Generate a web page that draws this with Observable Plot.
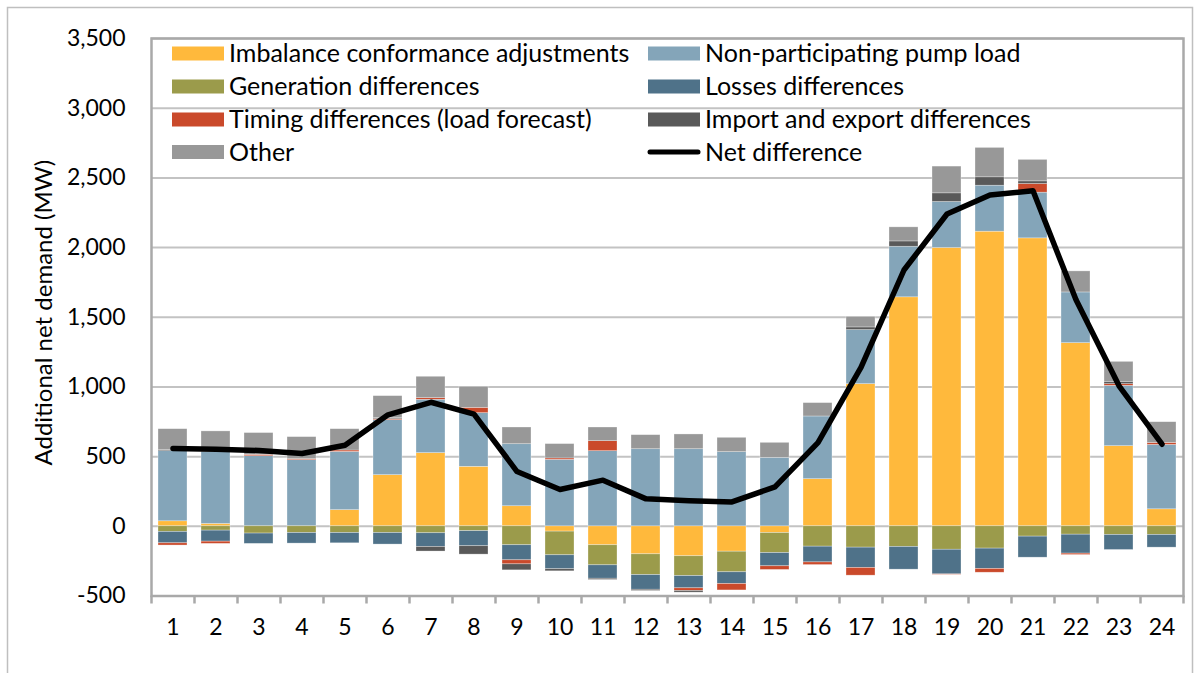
<!DOCTYPE html>
<html><head><meta charset="utf-8">
<script src="https://cdn.jsdelivr.net/npm/d3@7"></script>
<script src="https://cdn.jsdelivr.net/npm/@observablehq/plot@0.6"></script>
<style>
html,body{margin:0;padding:0;background:#fff;}
#chart{position:relative;width:1200px;height:673px;overflow:hidden;}
</style></head><body><div id="chart"></div>
<script>
// ---- data ----
const hours = d3.range(1, 25);
const seriesNames = [
  "Imbalance conformance adjustments",
  "Non-participating pump load",
  "Generation differences",
  "Losses differences",
  "Timing differences (load forecast)",
  "Import and export differences",
  "Other"
];
const colors = ["#FFB93C", "#84A5B9", "#9B9B4B", "#4F7289", "#CA4A2B", "#595959", "#989898"];
const imbalance = [36, 17, 0, 0, 116, 367, 525, 427, 144, -38, -136, -201, -215, -182, -48, 338, 1020, 1643, 1997, 2114, 2066, 1314, 575, 122];
const pumpLoad  = [503, 515, 503, 475, 418, 395, 383, 385, 445, 477, 539, 553, 553, 532, 491, 450, 388, 363, 330, 330, 328, 364, 433, 462];
const generation = [-40, -31, -52, -48, -48, -48, -50, -35, -136, -170, -144, -149, -142, -148, -144, -146, -153, -148, -168, -160, -74, -60, -62, -62];
const losses    = [-82, -79, -74, -76, -74, -83, -98, -108, -108, -100, -96, -105, -88, -84, -95, -113, -146, -163, -177, -146, -151, -136, -108, -91];
const timing    = [-16, -16, 10, 7, 10, 7, 12, 38, -29, 10, 72, 0, -19, -46, -26, -19, -55, 0, -3, -27, 62, -10, 12, 14];
const importExport = [9, 0, 0, 0, 0, 7, -33, -60, -43, -15, -9, -9, -12, 0, 0, 0, 19, 38, 62, 60, 19, 0, 17, 0];
const other     = [149, 149, 156, 158, 153, 158, 153, 151, 120, 103, 98, 101, 106, 103, 108, 96, 76, 101, 192, 211, 154, 151, 143, 149];
const netDifference = [558, 553, 544, 522, 582, 800, 890, 805, 393, 264, 331, 197, 183, 175, 283, 601, 1140, 1839, 2241, 2377, 2408, 1625, 1008, 589];
const yTicks = [-500, 0, 500, 1000, 1500, 2000, 2500, 3000, 3500];
const yLabel = "Additional net demand (MW)";
const netLabel = "Net difference";

// ---- build tables ----
const seriesValues = [imbalance, pumpLoad, generation, losses, timing, importExport, other];
const rows = [];
seriesNames.forEach((s, i) => seriesValues[i].forEach((v, j) => rows.push({hour: hours[j], series: s, value: v})));
const netRows = hours.map((h, j) => ({hour: h, value: netDifference[j]}));

const FONT = "Lato, 'Open Sans', sans-serif";
const fmt = d => (d < 0 ? "-" : "") + d3.format(",")(Math.abs(d));
const axisGray = "#a9a9a9";
const gridGray = "#c3c3c3";

const W = 1200, H = 673, ML = 151, MR = 17, MT = 38, MB = 77.5;
const step = (W - ML - MR) / hours.length;

const plot = Plot.plot({
  width: W, height: H,
  marginLeft: ML, marginRight: MR, marginTop: MT, marginBottom: MB,
  style: {fontFamily: FONT, fontSize: "23px", color: "#000", background: "transparent"},
  x: {type: "band", domain: hours, paddingInner: 0.33, paddingOuter: 0.165},
  y: {domain: [-500, 3500]},
  color: {domain: seriesNames, range: colors},
  marks: [
    Plot.ruleY(yTicks, {stroke: gridGray, strokeWidth: 2}),
    Plot.barY(rows, {x: "hour", y: "value", fill: "series", stroke: "#ffffff", strokeWidth: 0.6, strokeOpacity: 0.5}),
    Plot.frame({stroke: axisGray, strokeWidth: 2.5}),
    Plot.ruleX(hours, {x: d => d, y1: -500, y2: -500, dx: -step / 2, insetBottom: -8, stroke: axisGray, strokeWidth: 2.5}),
    Plot.ruleX([hours[hours.length - 1]], {x: d => d, y1: -500, y2: -500, dx: step / 2, insetBottom: -8, stroke: axisGray, strokeWidth: 2.5}),
    Plot.axisY({ticks: yTicks, tickSize: 0, tickPadding: 26, tickFormat: fmt, label: null, fontSize: 23}),
    Plot.axisX({tickSize: 0, tickPadding: 23, label: null, fontSize: 23}),
    Plot.lineY(netRows, {x: "hour", y: "value", stroke: "#000", strokeWidth: 5.5, strokeLinejoin: "round", strokeLinecap: "round"})
  ]
});
document.getElementById("chart").appendChild(plot);

// ---- extras: outer border, y label, legend ----
const svg = d3.select(plot);
svg.insert("rect", ":first-child")
  .attr("x", 7.5).attr("y", 7.5).attr("width", 1185).attr("height", 720)
  .attr("fill", "none").attr("stroke", "#bfbfbf").attr("stroke-width", 1.5);

svg.append("text")
  .attr("transform", `translate(52,${(MT + H - MB) / 2 - 4}) rotate(-90)`)
  .attr("text-anchor", "middle")
  .attr("font-family", FONT).attr("font-size", 24).attr("fill", "#000")
  .text(yLabel);

const lg = svg.append("g").attr("font-family", FONT).attr("font-size", 25).attr("fill", "#000").attr("text-anchor", "start");
const colX = [172, 648], rowY = [53.5, 86.5, 119.5, 152];
const legendItems = seriesNames.map((s, i) => ({label: s, color: colors[i], type: "rect"}))
  .concat([{label: netLabel, color: "#000", type: "line"}]);
legendItems.forEach((it, i) => {
  const cx = colX[i % 2], cy = rowY[Math.floor(i / 2)];
  if (it.type === "rect") {
    lg.append("rect").attr("x", cx).attr("y", cy - 7).attr("width", 52).attr("height", 14).attr("fill", it.color);
  } else {
    lg.append("line").attr("x1", cx + 2).attr("x2", cx + 50).attr("y1", cy).attr("y2", cy)
      .attr("stroke", it.color).attr("stroke-width", 5).attr("stroke-linecap", "round");
  }
  lg.append("text").attr("x", cx + 57).attr("y", cy).attr("dy", "0.35em").attr("text-anchor", "start").text(it.label);
});
</script>
</body></html>
